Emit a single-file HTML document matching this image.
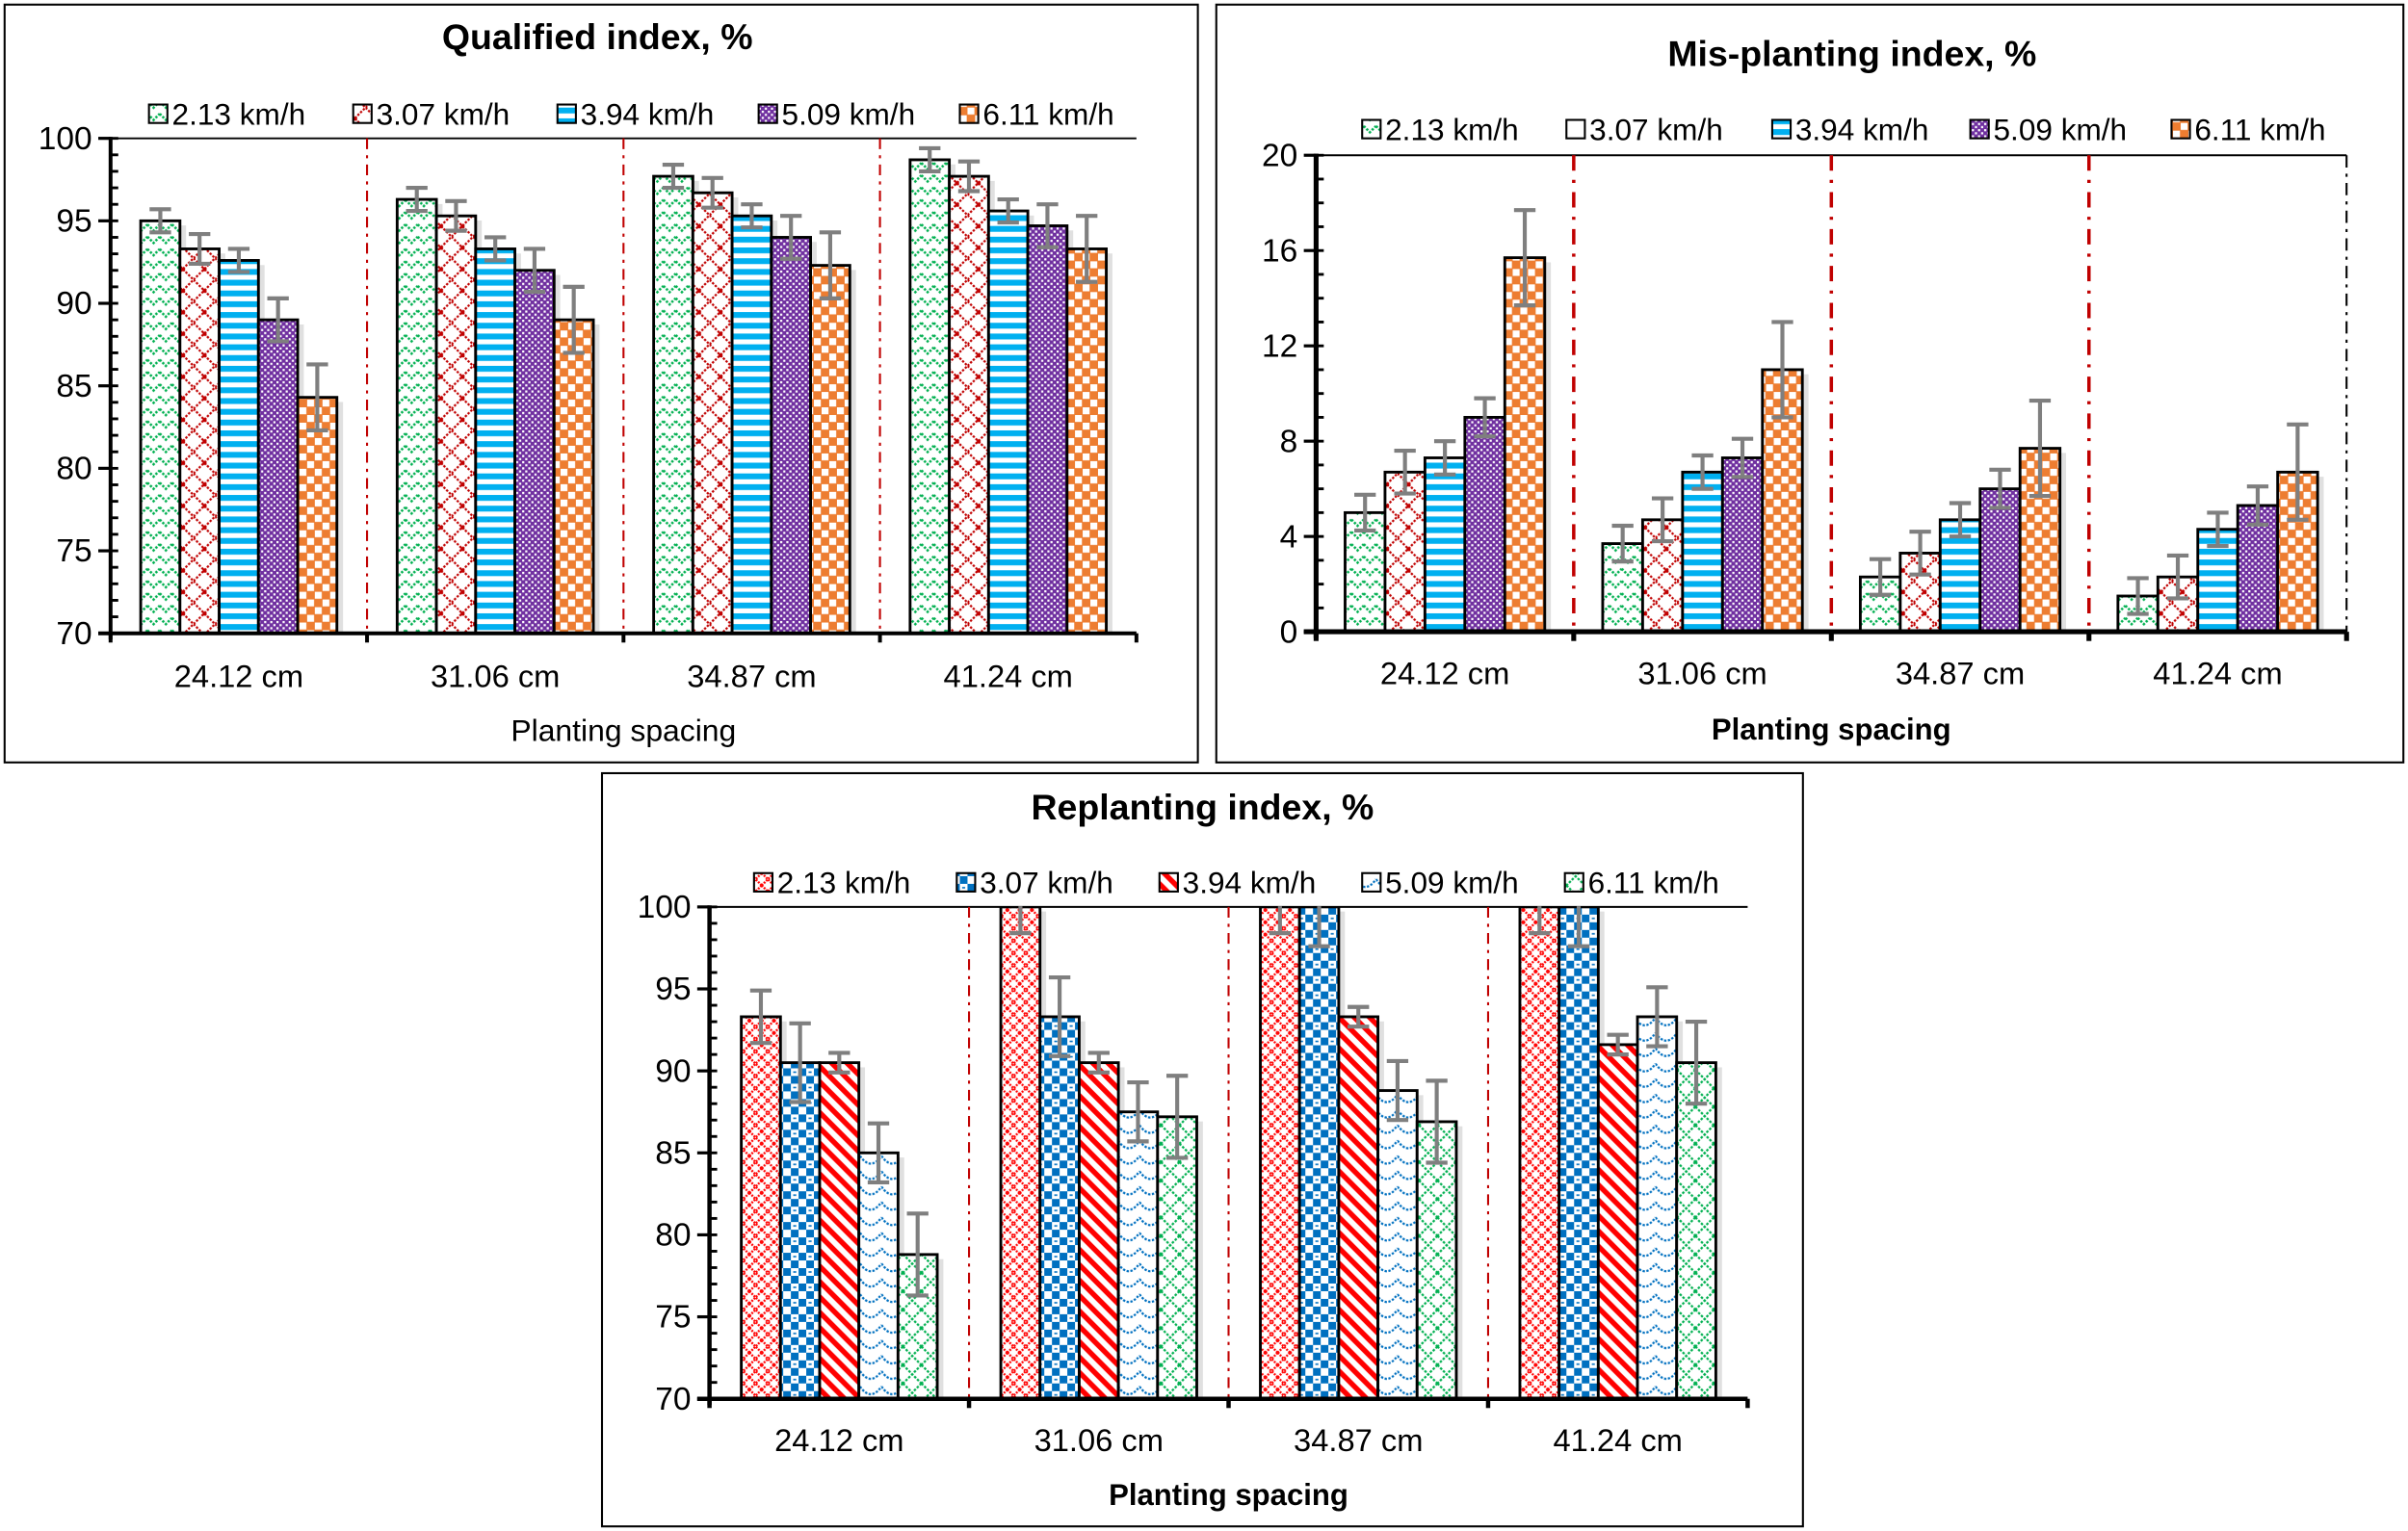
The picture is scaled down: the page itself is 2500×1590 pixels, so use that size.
<!DOCTYPE html>
<html><head><meta charset="utf-8">
<style>
html,body{margin:0;padding:0;background:#fff;}
svg{display:block;font-family:"Liberation Sans",Arial,sans-serif;}
</style></head>
<body>
<svg id="root" width="2500" height="1590" viewBox="0 0 1568 996" preserveAspectRatio="none" xmlns="http://www.w3.org/2000/svg">
<defs>
  <pattern id="pGreenZig" width="8" height="8" patternUnits="userSpaceOnUse">
    <rect width="8" height="8" fill="#fff"/>
    <polyline points="0,2 4,6 8,2" fill="none" stroke="#00B050" stroke-width="1.6" stroke-dasharray="1.5,1"/>
  </pattern>
  <pattern id="pRedZig" width="14" height="14" patternUnits="userSpaceOnUse">
    <rect width="14" height="14" fill="#fff"/>
    <polyline points="0,0 7,7 14,0" fill="none" stroke="#C00000" stroke-width="1.4" stroke-dasharray="1.5,1"/>
    <polyline points="0,14 7,7 14,14" fill="none" stroke="#C00000" stroke-width="1.4" stroke-dasharray="1.5,1"/>
    <rect x="6" y="6" width="2.5" height="2.5" fill="#C00000"/>
  </pattern>
  <pattern id="pBlueStripe" width="8" height="7" patternUnits="userSpaceOnUse">
    <rect width="8" height="7" fill="#fff"/>
    <rect y="0" width="8" height="3.8" fill="#00B0F0"/>
  </pattern>
  <pattern id="pPurple" width="4" height="4" patternUnits="userSpaceOnUse">
    <rect width="4" height="4" fill="#7030A0"/>
    <rect x="0" y="0" width="1.4" height="1.4" fill="#fff"/>
    <rect x="2" y="2" width="1.4" height="1.4" fill="#fff"/>
  </pattern>
  <pattern id="pOrange" width="10" height="10" patternUnits="userSpaceOnUse">
    <rect width="10" height="10" fill="#ED7D31"/>
    <rect x="0" y="0" width="4.5" height="4.5" fill="#fff"/>
    <rect x="5" y="5" width="4.5" height="4.5" fill="#fff"/>
  </pattern>
  <pattern id="pRedFine" width="8" height="8" patternUnits="userSpaceOnUse">
    <rect width="8" height="8" fill="#fff"/>
    <polyline points="0,0 4,4 8,0" fill="none" stroke="#FF0000" stroke-width="1.5" stroke-dasharray="1.2,0.8"/>
    <polyline points="0,8 4,4 8,8" fill="none" stroke="#FF0000" stroke-width="1.5" stroke-dasharray="1.2,0.8"/>
  </pattern>
  <pattern id="pBlueCheck" width="10" height="10" patternUnits="userSpaceOnUse">
    <rect width="10" height="10" fill="#0070C0"/>
    <rect x="0" y="0" width="5" height="5" fill="#fff"/>
    <rect x="5" y="5" width="5" height="5" fill="#fff"/>
    <rect x="6.5" y="7" width="2" height="1" fill="#0070C0"/>
  </pattern>
  <pattern id="pRedDiag" width="10" height="10" patternUnits="userSpaceOnUse">
    <rect width="10" height="10" fill="#fff"/>
    <path d="M-2,-2 L12,12 M-2,8 L2,12 M8,-2 L12,2" stroke="#FF0000" stroke-width="3.4"/>
  </pattern>
  <pattern id="pBlueScallop" width="14" height="10" patternUnits="userSpaceOnUse">
    <rect width="14" height="10" fill="#fff"/>
    <path d="M0,2 Q7,12 14,2" fill="none" stroke="#0070C0" stroke-width="1.4" stroke-dasharray="1.5,1"/>
  </pattern>
  <pattern id="pGreenNet" width="12" height="12" patternUnits="userSpaceOnUse">
    <rect width="12" height="12" fill="#fff"/>
    <path d="M0,0 L12,12 M12,0 L0,12" stroke="#00B050" stroke-width="1.4" stroke-dasharray="1.6,1"/>
  </pattern>
  <pattern id="pWhite" width="4" height="4" patternUnits="userSpaceOnUse"><rect width="4" height="4" fill="#fff"/></pattern>
</defs>
<g id="charts"></g>
</svg>
<script>
// ---------- Chart 1: Qualified index ----------
const categories = ["24.12 cm","31.06 cm","34.87 cm","41.24 cm"];
const speeds = ["2.13 km/h","3.07 km/h","3.94 km/h","5.09 km/h","6.11 km/h"];
const q_213 = [95.0, 96.3, 97.7, 98.7];
const q_307 = [93.3, 95.3, 96.7, 97.7];
const q_394 = [92.6, 93.3, 95.3, 95.6];
const q_509 = [89.0, 92.0, 94.0, 94.7];
const q_611 = [84.3, 89.0, 92.3, 93.3];
const q_err = [0.7, 0.9, 0.7, 1.3, 2.0];
const q_ticks = [70, 75, 80, 85, 90, 95, 100];
// ---------- Chart 2: Mis-planting index ----------
const m_213 = [5.0, 3.7, 2.3, 1.5];
const m_307 = [6.7, 4.7, 3.3, 2.3];
const m_394 = [7.3, 6.7, 4.7, 4.3];
const m_509 = [9.0, 7.3, 6.0, 5.3];
const m_611 = [15.7, 11.0, 7.7, 6.7];
const m_err = [0.75, 0.9, 0.7, 0.8, 2.0];
const m_ticks = [0, 4, 8, 12, 16, 20];
// ---------- Chart 3: Replanting index ----------
const r_213 = [93.3, 100, 100, 100];
const r_307 = [90.5, 93.3, 100, 100];
const r_394 = [90.5, 90.5, 93.3, 91.6];
const r_509 = [85.0, 87.5, 88.8, 93.3];
const r_611 = [78.8, 87.2, 86.9, 90.5];
const r_err = [1.6, 2.4, 0.6, 1.8, 2.5];
const r_ticks = [70, 75, 80, 85, 90, 95, 100];

const NS = "http://www.w3.org/2000/svg";
const root = document.getElementById("charts");
function el(tag, attrs, parent) {
  const e = document.createElementNS(NS, tag);
  for (const k in attrs) e.setAttribute(k, attrs[k]);
  (parent || root).appendChild(e);
  return e;
}

function drawChart(cfg) {
  const g = el("g", {});
  
  
  const frame = el("rect", {x: cfg.box[0], y: cfg.box[1], width: cfg.box[2], height: cfg.box[3], fill: "#fff", stroke: "#000", "stroke-width": 1.3}, g);
  
  
  const t = el("text", {x: cfg.titleX, y: cfg.titleY, "text-anchor": "middle", "font-size": 23.5, "font-weight": "bold"}, g);
  t.textContent = cfg.title;
  
  

  const [px0, py0, px1, py1] = cfg.plot;
  const ymin = cfg.ticks[0], ymax = cfg.ticks[cfg.ticks.length - 1];
  const yS = v => py1 - (v - ymin) / (ymax - ymin) * (py1 - py0);
  const gw = (px1 - px0) / categories.length;
  const bw = gw * cfg.barFrac;
  const xS = (ci, si) => px0 + gw * ci + (gw - bw * speeds.length) / 2 + bw * si;

  speeds.forEach((s, i) => {
    const lx = cfg.legendX[i];
    const li = el("g", {}, g);
    
    
    el("rect", {x: lx, y: cfg.legendY - 13, width: 12, height: 12, fill: "url(#" + cfg.legendPat[i] + ")", stroke: "#000", "stroke-width": 1.3}, li);
    const lt = el("text", {x: lx + 15, y: cfg.legendY, "font-size": 19.8}, li);
    lt.textContent = s;
  });

  el("line", {x1: px0, y1: py0, x2: px1, y2: py0, stroke: "#000", "stroke-width": 1.2}, g);
  if (cfg.rightDash) el("line", {x1: px1, y1: py0, x2: px1, y2: py1, stroke: "#000", "stroke-width": 1.3, "stroke-dasharray": "8,4,2,4"}, g);

  for (let c = 1; c < categories.length; c++) {
    const sx = px0 + gw * c;
    const sl = el("line", {x1: sx, y1: py0, x2: sx, y2: py1, stroke: "#C00000", "stroke-width": cfg.sepW, "stroke-dasharray": cfg.sepDash}, g);
    
    
  }

  const cid = cfg.name + "-clip";
  const cp = el("clipPath", {id: cid}, g);
  el("rect", {x: px0, y: py0 - 0.5, width: px1 - px0, height: py1 - py0 + 1}, cp);
  const bars = el("g", {"clip-path": "url(#" + cid + ")"}, g);

  cfg.series.forEach((arr, si) => {
    arr.forEach((v, ci) => {
      const x = xS(ci, si), y = yS(v);
      el("rect", {x: x + 4, y: y + 3, width: bw, height: py1 - y, fill: "#000", opacity: 0.12}, bars);
    });
  });
  cfg.series.forEach((arr, si) => {
    arr.forEach((v, ci) => {
      const x = xS(ci, si), y = yS(v);
      const b = el("rect", {x: x, y: y, width: bw, height: py1 - y, fill: "url(#" + cfg.pats[si] + ")", stroke: "#000", "stroke-width": 1.8}, bars);
      
      
    });
  });
  cfg.series.forEach((arr, si) => {
    arr.forEach((v, ci) => {
      const cx = xS(ci, si) + bw / 2, e = cfg.err[si];
      const yt = yS(v + e), yb = yS(v - e);
      const eb = el("path", {d: `M${cx},${yt}V${yb}M${cx - 7},${yt}H${cx + 7}M${cx - 7},${yb}H${cx + 7}`, stroke: "#7F7F7F", "stroke-width": 2.6, fill: "none"}, bars);
      
      
    });
  });

  const yAx = el("g", {}, g);
  
  
  el("line", {x1: px0, y1: py0 - 1, x2: px0, y2: py1 + 4, stroke: "#000", "stroke-width": cfg.axW}, yAx);
  for (let v = ymin; v <= ymax; v += cfg.minor) {
    el("line", {x1: px0, y1: yS(v), x2: px0 + 5, y2: yS(v), stroke: "#000", "stroke-width": 1.8}, yAx);
  }
  cfg.ticks.forEach(v => {
    el("line", {x1: px0 - 8, y1: yS(v), x2: px0, y2: yS(v), stroke: "#000", "stroke-width": 2}, yAx);
    const tl = el("text", {x: px0 - 12, y: yS(v) + 7, "text-anchor": "end", "font-size": 21}, yAx);
    tl.textContent = v;
  });
  const xAx = el("g", {}, g);
  
  
  el("line", {x1: px0 - 8, y1: py1, x2: px1, y2: py1, stroke: "#000", "stroke-width": cfg.axW}, xAx);
  for (let c = 0; c <= categories.length; c++) {
    const tx = px0 + gw * c;
    el("line", {x1: tx, y1: py1, x2: tx, y2: py1 + 6, stroke: "#000", "stroke-width": cfg.axW}, xAx);
  }
  categories.forEach((c, ci) => {
    const ct = el("text", {x: px0 + gw * (ci + 0.5), y: cfg.catY, "text-anchor": "middle", "font-size": 20.5}, xAx);
    ct.textContent = c;
  });
  const xt = el("text", {x: (px0 + px1) / 2, y: cfg.xTitleY, "text-anchor": "middle", "font-size": cfg.xTitleBold ? 19.5 : 20, "font-weight": cfg.xTitleBold ? "bold" : "normal"}, g);
  xt.textContent = "Planting spacing";
  
  
}

drawChart({
  name: "qualified-index-chart", box: [3, 3, 777, 493], title: "Qualified index, %", titleX: 389, titleY: 32,
  legendX: [97, 230, 363, 494, 625], legendY: 81, plot: [72, 90, 740, 412], ticks: q_ticks, minor: 1,
  series: [q_213, q_307, q_394, q_509, q_611], err: q_err, barFrac: 0.153,
  pats: ["pGreenZig", "pRedZig", "pBlueStripe", "pPurple", "pOrange"],
  legendPat: ["pGreenZig", "pRedZig", "pBlueStripe", "pPurple", "pOrange"],
  sepW: 1.3, sepDash: "7,4,2,4", axW: 2.5, catY: 447, xTitleY: 482, xTitleBold: false, rightDash: false
});
drawChart({
  name: "mis-planting-index-chart", box: [792, 3, 773, 493], title: "Mis-planting index, %", titleX: 1206, titleY: 43,
  legendX: [887, 1020, 1154, 1283, 1414], legendY: 91, plot: [857, 101, 1528, 411], ticks: m_ticks, minor: 1,
  series: [m_213, m_307, m_394, m_509, m_611], err: m_err, barFrac: 0.155,
  pats: ["pGreenZig", "pRedZig", "pBlueStripe", "pPurple", "pOrange"],
  legendPat: ["pGreenZig", "pWhite", "pBlueStripe", "pPurple", "pOrange"],
  sepW: 2.2, sepDash: "10,6,2,6", axW: 3.2, catY: 445, xTitleY: 481, xTitleBold: true, rightDash: true
});
drawChart({
  name: "replanting-index-chart", box: [392, 503, 782, 490], title: "Replanting index, %", titleX: 783, titleY: 533,
  legendX: [491, 623, 755, 887, 1019], legendY: 581, plot: [462, 590, 1138, 910], ticks: r_ticks, minor: 1,
  series: [r_213, r_307, r_394, r_509, r_611], err: r_err, barFrac: 0.151,
  pats: ["pRedFine", "pBlueCheck", "pRedDiag", "pBlueScallop", "pGreenNet"],
  legendPat: ["pRedFine", "pBlueCheck", "pRedDiag", "pBlueScallop", "pGreenNet"],
  sepW: 1.3, sepDash: "7,4,2,4", axW: 2.8, catY: 944, xTitleY: 979, xTitleBold: true, rightDash: false
});
</script>
</body></html>
